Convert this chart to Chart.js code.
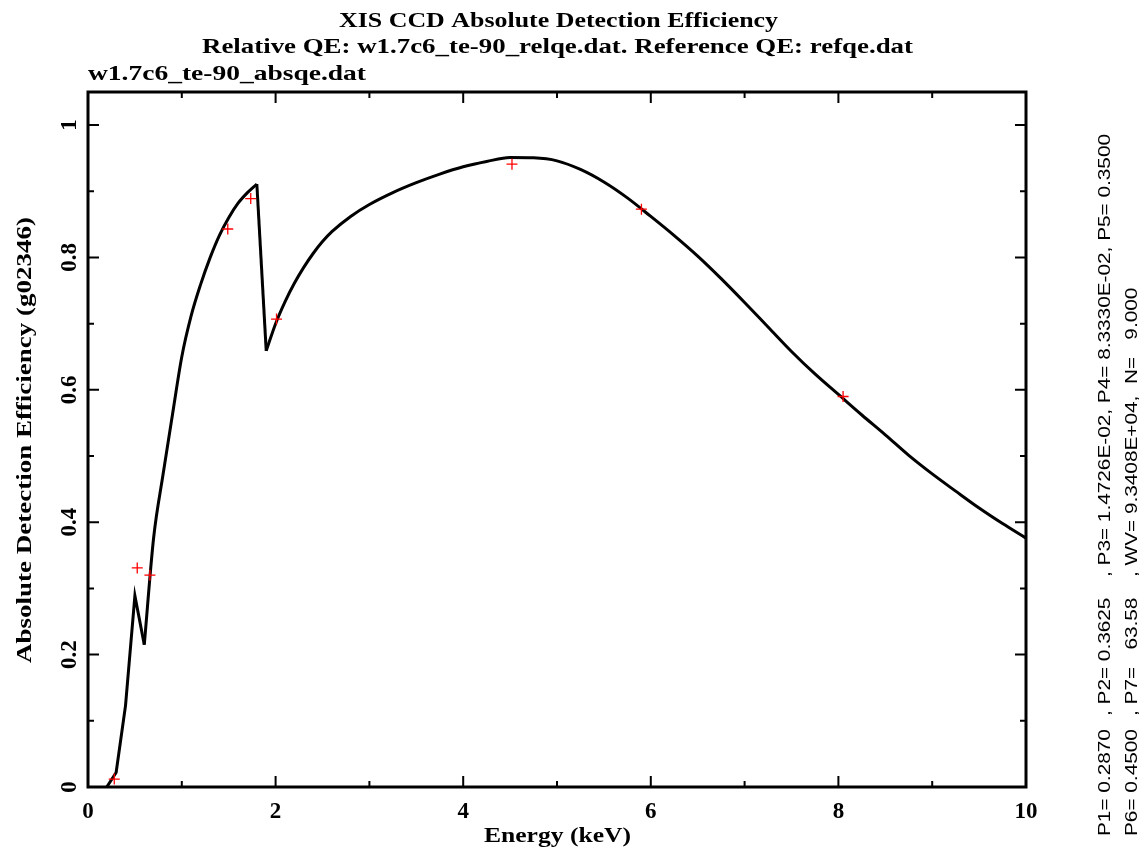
<!DOCTYPE html>
<html>
<head>
<meta charset="utf-8">
<title>XIS CCD Absolute Detection Efficiency</title>
<script src="https://cdn.jsdelivr.net/npm/chart.js@4/dist/chart.umd.min.js"></script>
<style>
    html, body { margin: 0; padding: 0; background: #fff; }
    #wrap { width: 1141px; height: 849px; }
</style>
</head>
<body>
<div id="wrap"><canvas id="qeChart" width="1141" height="849"></canvas></div>
<script>
// model curve (keV, efficiency)
var curveEnergy = [0.20, 0.30, 0.40, 0.50, 0.60, 0.70, 0.80, 0.90, 1.00, 1.10, 1.20, 1.30, 1.40, 1.50, 1.60, 1.70, 1.80,
    1.90, 2.00, 2.10, 2.20, 2.30, 2.40, 2.50, 2.60, 2.80, 3.00, 3.25, 3.50, 3.75, 4.00, 4.25, 4.50, 4.75, 5.00, 5.25,
    5.50, 5.75, 6.00, 6.25, 6.50, 6.75, 7.00, 7.25, 7.50, 7.75, 8.00, 8.25, 8.50, 8.75, 9.00, 9.25, 9.50, 9.75, 10.00];
var curveQE = [0.000, 0.022, 0.123, 0.289, 0.215, 0.377, 0.472, 0.562, 0.650, 0.712, 0.759, 0.799, 0.833, 0.860, 0.882, 0.898, 0.911,
    0.659, 0.700, 0.733, 0.761, 0.785, 0.806, 0.824, 0.839, 0.862, 0.880, 0.898, 0.913, 0.926, 0.937, 0.945, 0.951, 0.9505, 0.946, 0.933,
    0.914, 0.890, 0.862, 0.833, 0.802, 0.768, 0.732, 0.695, 0.658, 0.624, 0.593, 0.562, 0.532, 0.501, 0.473, 0.447, 0.4215, 0.398, 0.376];

// absorption edges: straight pieces between these indices, smooth elsewhere
var curvePieces = [[0, 4, false], [4, 16, true], [16, 17, false], [17, 54, true]];

// measured points
var dataEnergy = [0.28, 0.525, 0.66, 1.49, 1.735, 2.01, 4.52, 5.90, 8.05];
var dataQE = [0.012, 0.331, 0.320, 0.843, 0.889, 0.707, 0.941, 0.873, 0.590];

var xTickLabels = ["0", "2", "4", "6", "8", "10"];
var yTickLabels = ["0", "0.2", "0.4", "0.6", "0.8", "1"];

var titleLines = [
    "XIS CCD Absolute Detection Efficiency",
    "Relative QE: w1.7c6_te-90_relqe.dat. Reference QE: refqe.dat",
    "w1.7c6_te-90_absqe.dat"
];
var fitParams1 = ["P1= 0.2870", ", P2= 0.3625", ", P3= 1.4726E-02, P4= 8.3330E-02, P5= 0.3500"];
var fitParams2 = ["P6= 0.4500", ", P7=   63.58", ", WV= 9.3408E+04,  N=   9.000"];

function toXY(xs, ys) {
    return xs.map(function (x, i) { return { x: x, y: ys[i] }; });
}

// draw text stretched to a given length, optionally rotated
function fitText(ctx, text, x, y, width, rot) {
    ctx.save();
    ctx.translate(x, y);
    if (rot) ctx.rotate(rot);
    var w = ctx.measureText(text).width;
    if (width) ctx.scale(width / w, 1);
    ctx.fillText(text, 0, 0);
    ctx.restore();
}

var serif = '"Liberation Serif", "DejaVu Serif", serif';

var framePlugin = {
    id: 'pgFrame',
    afterDraw: function (chart) {
        var ctx = chart.ctx;
        var xs = chart.scales.x, ys = chart.scales.y;
        var a = chart.chartArea;
        ctx.save();

        // frame
        ctx.strokeStyle = '#000';
        ctx.lineWidth = 3;
        ctx.strokeRect(a.left, a.top, a.right - a.left, a.bottom - a.top);

        // ticks inside on all four sides
        ctx.lineWidth = 2;
        ctx.beginPath();
        for (var i = 1; i < 10; i++) {
            var px = xs.getPixelForValue(i);
            var len = (i % 2 === 0) ? 11 : 6;
            ctx.moveTo(px, a.bottom); ctx.lineTo(px, a.bottom - len);
            ctx.moveTo(px, a.top); ctx.lineTo(px, a.top + len);
        }
        for (var j = 1; j <= 10; j++) {
            var py = ys.getPixelForValue(j / 10);
            var l2 = (j % 2 === 0) ? 11 : 6;
            ctx.moveTo(a.left, py); ctx.lineTo(a.left + l2, py);
            ctx.moveTo(a.right, py); ctx.lineTo(a.right - l2, py);
        }
        ctx.stroke();

        ctx.fillStyle = '#000';

        // x tick labels
        ctx.font = 'bold 23px ' + serif;
        ctx.textAlign = 'center';
        ctx.textBaseline = 'alphabetic';
        xTickLabels.forEach(function (lab) {
            ctx.fillText(lab, xs.getPixelForValue(parseFloat(lab)), 818);
        });

        // y tick labels (rotated)
        yTickLabels.forEach(function (lab) {
            ctx.save();
            ctx.translate(76, ys.getPixelForValue(parseFloat(lab)));
            ctx.rotate(-Math.PI / 2);
            ctx.fillText(lab, 0, 0);
            ctx.restore();
        });

        // titles
        ctx.textAlign = 'left';
        ctx.font = 'bold 21px ' + serif;
        fitText(ctx, titleLines[0], 339, 27, 439);
        fitText(ctx, titleLines[1], 202, 53, 711);
        fitText(ctx, titleLines[2], 88, 80, 278);

        // axis titles
        fitText(ctx, 'Energy (keV)', 484, 842, 147);
        fitText(ctx, 'Absolute Detection Efficiency (g02346)', 31, 663, 446, -Math.PI / 2);

        // fit parameters along right edge, same glyph stretch for every piece
        ctx.font = '16px "Liberation Sans", "DejaVu Sans", sans-serif';
        var k = 443 / ctx.measureText(fitParams1[2]).width;
        var starts = [836, 716, 577];
        for (var m = 0; m < 3; m++) {
            fitText(ctx, fitParams1[m], 1110, starts[m], k * ctx.measureText(fitParams1[m]).width, -Math.PI / 2);
            fitText(ctx, fitParams2[m], 1137, starts[m], k * ctx.measureText(fitParams2[m]).width, -Math.PI / 2);
        }

        ctx.restore();
    }
};

var datasets = [{
    label: 'measured',
    data: toXY(dataEnergy, dataQE),
    pointStyle: 'cross',
    pointRadius: 5.5,
    borderColor: '#ff0000',
    borderWidth: 1.3,
    order: 0
}];
curvePieces.forEach(function (p) {
    datasets.push({
        label: 'model',
        data: toXY(curveEnergy.slice(p[0], p[1] + 1), curveQE.slice(p[0], p[1] + 1)),
        showLine: true,
        pointRadius: 0,
        borderColor: '#000000',
        borderWidth: 3,
        cubicInterpolationMode: p[2] ? 'monotone' : 'default',
        tension: 0,
        order: 1
    });
});

var ctx = document.getElementById('qeChart').getContext('2d');
var qeChart = new Chart(ctx, {
    type: 'scatter',
    data: { datasets: datasets },
    options: {
        responsive: false,
        animation: false,
        layout: { padding: { left: 88, right: 115, top: 92, bottom: 62 } },
        scales: {
            x: { type: 'linear', min: 0, max: 10, display: false },
            y: { type: 'linear', min: 0, max: 1.05, display: false }
        },
        plugins: {
            legend: { display: false },
            tooltip: { enabled: false }
        }
    },
    plugins: [framePlugin]
});
</script>
</body>
</html>
